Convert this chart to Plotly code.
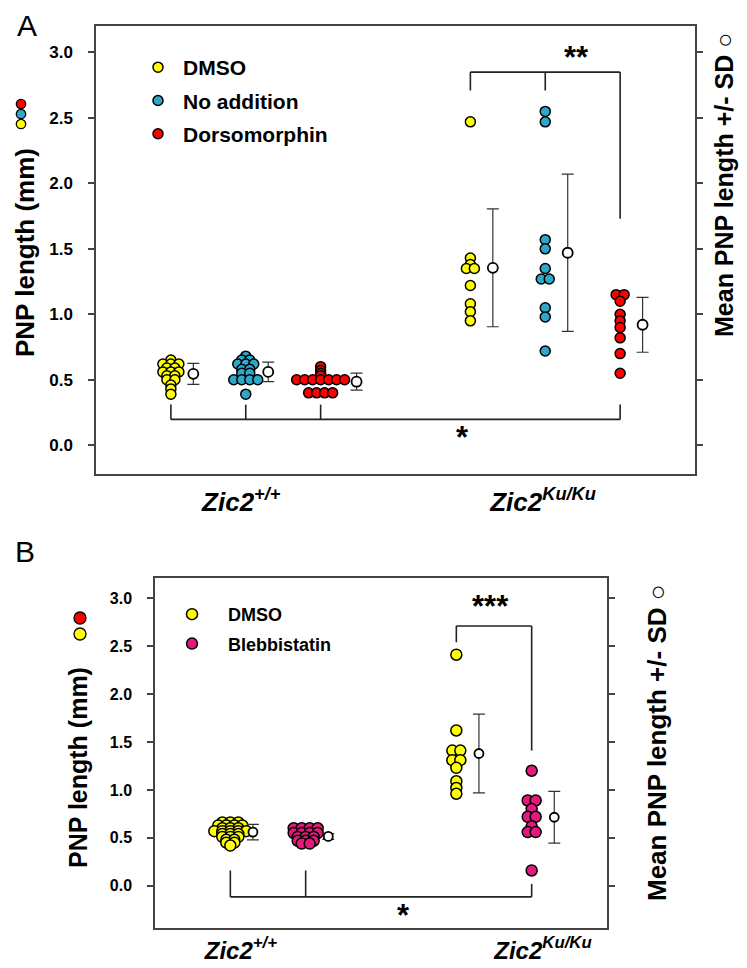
import plotly.graph_objects as go

W, H = 747, 968
FONT = "Arial, 'Liberation Sans', sans-serif"

# ---------------- Panel A data ----------------
a_tick_labels = ["<b><i>Zic2</i><sup><i>+/+</i></sup></b>", "<b><i>Zic2</i><sup><i>Ku/Ku</i></sup></b>"]
a_series = ["DMSO", "No addition", "Dorsomorphin"]
a_wt_dmso = [0.65, 0.62, 0.62, 0.62, 0.59, 0.59, 0.56, 0.56, 0.56, 0.53, 0.53, 0.50, 0.50, 0.46, 0.43, 0.39]
a_wt_noadd = [0.68, 0.65, 0.65, 0.62, 0.62, 0.62, 0.58, 0.58, 0.55, 0.55, 0.50, 0.50, 0.50, 0.50, 0.39]
a_wt_dorso = [0.60, 0.57, 0.55, 0.53, 0.50, 0.50, 0.50, 0.50, 0.50, 0.50, 0.50, 0.40, 0.40, 0.40, 0.40]
a_ku_dmso = [2.47, 1.43, 1.38, 1.35, 1.35, 1.22, 1.08, 1.02, 0.95]
a_ku_noadd = [2.55, 2.47, 1.57, 1.50, 1.35, 1.27, 1.27, 1.05, 0.98, 0.72]
a_ku_dorso = [1.15, 1.15, 1.10, 1.00, 0.95, 0.90, 0.82, 0.70, 0.55]
a_mean_wt = [0.545, 0.56, 0.485]
a_sd_wt = [0.08, 0.075, 0.065]
a_mean_ku = [1.355, 1.47, 0.92]
a_sd_ku = [0.45, 0.60, 0.21]

# ---------------- Panel B data ----------------
b_tick_labels = a_tick_labels
b_series = ["DMSO", "Blebbistatin"]
b_wt_dmso = [0.66, 0.66, 0.66, 0.63, 0.63, 0.63, 0.63, 0.60, 0.60, 0.60, 0.57, 0.57, 0.57, 0.57, 0.57,
             0.54, 0.54, 0.54, 0.51, 0.51, 0.51, 0.48, 0.48, 0.45, 0.45, 0.42]
b_wt_bleb = [0.60, 0.60, 0.60, 0.60, 0.55, 0.55, 0.55, 0.55, 0.51, 0.51, 0.51, 0.47, 0.47, 0.47, 0.44, 0.44]
b_ku_dmso = [2.41, 1.62, 1.41, 1.41, 1.31, 1.31, 1.23, 1.09, 1.02, 0.96]
b_ku_bleb = [1.20, 0.89, 0.89, 0.80, 0.72, 0.72, 0.62, 0.56, 0.56, 0.16]
b_mean_wt = [0.56, 0.515]
b_sd_wt = [0.08, 0.03]
b_mean_ku = [1.38, 0.715]
b_sd_ku = [0.41, 0.27]

# ---------------- styling / layout constants ----------------
COL_A = ["#FFFF00", "#2FA7C9", "#FF0000"]
COL_B = ["#FFFF00", "#E5187C"]
A_POS_WT, A_POS_KU = [1, 2, 3], [5, 6, 7]
A_MOFF_WT, A_MOFF_KU = [0.30, 0.30, 0.48], [0.30, 0.30, 0.30]
B_POS_WT, B_POS_KU = [1, 2], [4, 5]
B_MOFF = 0.30


def px(x):
    return x / W


def py(y):
    return 1 - y / H


def swarm(values, center, dx):
    counts = {}
    for v in values:
        k = round(v, 3)
        counts[k] = counts.get(k, 0) + 1
    xs, ys = [], []
    for k, n in counts.items():
        for i in range(n):
            xs.append(center + (i - (n - 1) / 2) * dx)
            ys.append(k)
    return xs, ys


fig = go.Figure()

# ---- Panel A traces ----
a_wt = [a_wt_dmso, a_wt_noadd, a_wt_dorso]
a_ku = [a_ku_dmso, a_ku_noadd, a_ku_dorso]
dxA = 8 / 74.9
for i, name in enumerate(a_series):
    for j, (vals, pos) in enumerate([(a_wt[i], A_POS_WT[i]), (a_ku[i], A_POS_KU[i])]):
        xs, ys = swarm(vals, pos, dxA)
        fig.add_trace(go.Scatter(
            x=xs, y=ys, mode="markers", name=name, legendgroup="a" + name,
            showlegend=(j == 0), legend="legend",
            marker=dict(size=10, color=COL_A[i], line=dict(color="black", width=1.5)),
            xaxis="x", yaxis="y"))
    fig.add_trace(go.Scatter(
        x=[A_POS_WT[i] + A_MOFF_WT[i], A_POS_KU[i] + A_MOFF_KU[i]],
        y=[a_mean_wt[i], a_mean_ku[i]], mode="markers", showlegend=False,
        error_y=dict(type="data", array=[a_sd_wt[i], a_sd_ku[i]], color="#333", thickness=1.2, width=6),
        marker=dict(size=10, color="white", line=dict(color="black", width=1.8)),
        xaxis="x", yaxis="y"))

# ---- Panel B traces ----
b_wt = [b_wt_dmso, b_wt_bleb]
b_ku = [b_ku_dmso, b_ku_bleb]
dxB = 8 / 75.33
for i, name in enumerate(b_series):
    for j, (vals, pos) in enumerate([(b_wt[i], B_POS_WT[i]), (b_ku[i], B_POS_KU[i])]):
        xs, ys = swarm(vals, pos, dxB)
        fig.add_trace(go.Scatter(
            x=xs, y=ys, mode="markers", name=name, legendgroup="b" + name,
            showlegend=(j == 0), legend="legend2",
            marker=dict(size=11, color=COL_B[i], line=dict(color="black", width=1.5)),
            xaxis="x2", yaxis="y2"))
    fig.add_trace(go.Scatter(
        x=[B_POS_WT[i] + B_MOFF, B_POS_KU[i] + B_MOFF],
        y=[b_mean_wt[i], b_mean_ku[i]], mode="markers", showlegend=False,
        error_y=dict(type="data", array=[b_sd_wt[i], b_sd_ku[i]], color="#333", thickness=1.2, width=6),
        marker=dict(size=9, color="white", line=dict(color="black", width=1.8)),
        xaxis="x2", yaxis="y2"))

# ---- brackets ----
shapes = []
LC = dict(color="#222", width=1.6)


def seg(xr, yr, x0, y0, x1, y1):
    shapes.append(dict(type="line", xref=xr, yref=yr, x0=x0, y0=y0, x1=x1, y1=y1, line=LC))


# Panel A top bracket
a_top, a_top_drop = 2.85, 2.71
seg("x", "y", A_POS_KU[0], a_top, A_POS_KU[2], a_top)
seg("x", "y", A_POS_KU[0], a_top, A_POS_KU[0], a_top_drop)
seg("x", "y", A_POS_KU[1], a_top, A_POS_KU[1], a_top_drop)
seg("x", "y", A_POS_KU[2], a_top, A_POS_KU[2], 1.73)
# Panel A bottom bracket
a_bot, a_bot_rise = 0.197, 0.31
seg("x", "y", A_POS_WT[0], a_bot, A_POS_KU[2], a_bot)
for p in A_POS_WT + [A_POS_KU[2]]:
    seg("x", "y", p, a_bot, p, a_bot_rise)
# Panel B top bracket
b_top = 2.71
seg("x2", "y2", B_POS_KU[0], b_top, B_POS_KU[1], b_top)
seg("x2", "y2", B_POS_KU[0], b_top, B_POS_KU[0], 2.54)
seg("x2", "y2", B_POS_KU[1], b_top, B_POS_KU[1], 1.41)
# Panel B bottom bracket
b_bot = -0.115
seg("x2", "y2", B_POS_WT[0], b_bot, B_POS_KU[1], b_bot)
seg("x2", "y2", B_POS_WT[0], b_bot, B_POS_WT[0], 0.16)
seg("x2", "y2", B_POS_WT[1], b_bot, B_POS_WT[1], 0.16)
seg("x2", "y2", B_POS_KU[1], b_bot, B_POS_KU[1], 0.02)


# decorative coloured dots next to the left axis titles
def dot(cx, cy, r, color):
    shapes.append(dict(type="circle", xref="paper", yref="paper",
                       x0=px(cx - r), x1=px(cx + r), y0=py(cy + r), y1=py(cy - r),
                       fillcolor=color, line=dict(color="black", width=1.3)))


dot(13, 96, 4.7, COL_A[2])
dot(13, 106, 4.7, COL_A[1])
dot(13, 116, 4.7, COL_A[0])
dot(72, 610, 6, "#FF0000")
dot(72, 626, 6, "#FFFF00")


def note(text, x, y, size, angle=0, xref="paper", yref="paper", yshift=0):
    return dict(text=text, x=x, y=y, xref=xref, yref=yref, showarrow=False, textangle=angle,
                xanchor="center", yanchor="middle", yshift=yshift,
                font=dict(size=size, family=FONT, color="black"))


annotations = [
    note("A", px(19), py(17), 30),
    note("B", px(17), py(543), 30),
    note("<b>PNP length (mm)</b>", px(17), py(245), 26, -90),
    note("<b>Mean PNP length +/- SD</b> ○", px(716), py(177), 25, -90),
    note("<b>PNP length (mm)</b>", px(70), py(760), 25, -90),
    note("<b>Mean PNP length +/- SD</b> ○", px(649), py(735), 26, -90),
    note("<b>**</b>", 6.42, 2.93, 31, xref="x", yref="y", yshift=4),
    note("<b>*</b>", 4.9, 0.027, 31, xref="x", yref="y", yshift=4),
    note("<b>***</b>", 4.46, 2.87, 31, xref="x2", yref="y2", yshift=4),
    note("<b>*</b>", 3.3, -0.355, 31, xref="x2", yref="y2", yshift=4),
]

axis_common = dict(showline=True, linecolor="#444", linewidth=1.5, showgrid=False, zeroline=False)

fig.update_layout(
    width=W, height=H, margin=dict(l=0, r=0, t=0, b=0),
    paper_bgcolor="white", plot_bgcolor="white",
    font=dict(family=FONT, color="black"),
    xaxis=dict(domain=[px(88), px(687)], range=[0, 8], anchor="y", mirror=True, ticks="",
               tickvals=[1.94, 5.97], ticktext=a_tick_labels, tickfont=dict(size=26), ticklabelstandoff=4,
               **axis_common),
    yaxis=dict(domain=[py(466), py(18.3)], range=[-0.22, 3.2], anchor="x", mirror="ticks",
               ticks="outside", ticklen=6, tickwidth=1.5, tickcolor="#444", tick0=0, dtick=0.5,
               tickformat=".1f", tickfont=dict(size=17, weight="bold"), ticklabelstandoff=12,
               **axis_common),
    xaxis2=dict(domain=[px(147), px(599)], range=[0, 6], anchor="y2", mirror=True, ticks="",
                tickvals=[1.14, 5.15], ticktext=b_tick_labels, tickfont=dict(size=24), ticklabelstandoff=0,
                **axis_common),
    yaxis2=dict(domain=[py(920), py(570)], range=[-0.44, 3.21], anchor="x2", mirror="ticks",
                ticks="outside", ticklen=6, tickwidth=1.5, tickcolor="#444", tick0=0, dtick=0.5,
                tickformat=".1f", tickfont=dict(size=16, weight="bold"), ticklabelstandoff=12,
                **axis_common),
    legend=dict(x=px(125), y=py(39), xanchor="left", yanchor="top", traceorder="grouped",
                tracegroupgap=3, itemwidth=40, bgcolor="rgba(0,0,0,0)",
                font=dict(size=21, family=FONT, weight="bold")),
    legend2=dict(x=px(148), y=py(588), xanchor="left", yanchor="top", traceorder="grouped",
                 tracegroupgap=3, itemwidth=62, bgcolor="rgba(0,0,0,0)",
                 font=dict(size=18, family=FONT, weight="bold")),
    shapes=shapes, annotations=annotations,
)

fig.write_html("out.html")
